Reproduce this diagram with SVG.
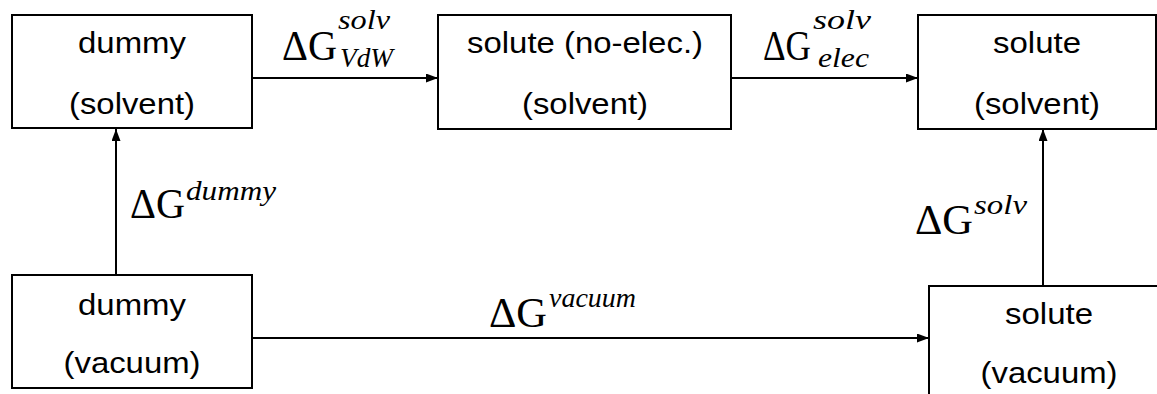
<svg xmlns="http://www.w3.org/2000/svg" width="1157" height="394" viewBox="0 0 1157 394">
<defs>
<style>
.box{fill:#fff;stroke:#000;stroke-width:2}
.lbl{font-family:"Liberation Sans",Arial,sans-serif;font-size:30px;fill:#000;text-anchor:middle}
.dg{font-family:"Liberation Serif","Times New Roman",serif;font-size:42px;fill:#000}
.sc{font-family:"Liberation Serif","Times New Roman",serif;font-size:28px;font-style:italic;fill:#000}
.conn{stroke:#000;stroke-width:2;fill:none;marker-end:url(#ah)}
</style>
<marker id="ah" viewBox="0 0 12 9" refX="12" refY="4.5" markerWidth="12" markerHeight="9" markerUnits="userSpaceOnUse" orient="auto">
<path d="M0,0 L12,4.5 L0,9 Z" fill="#000"/>
</marker>
</defs>
<rect width="1157" height="394" fill="#fff"/>
<g id="connectors">
<line class="conn" x1="252" y1="78" x2="438" y2="78"/>
<line class="conn" x1="731" y1="78" x2="918" y2="78"/>
<line class="conn" x1="116" y1="275" x2="116" y2="129"/>
<line class="conn" x1="1043" y1="286" x2="1043" y2="129"/>
<line class="conn" x1="252" y1="338" x2="929" y2="338"/>
</g>
<g id="node-dummy-solvent">
<rect class="box" x="12" y="15" width="240" height="113"/>
<text class="lbl" x="132" y="53" textLength="108" lengthAdjust="spacingAndGlyphs">dummy</text>
<text class="lbl" x="132" y="114" textLength="126" lengthAdjust="spacingAndGlyphs">(solvent)</text>
</g>
<g id="node-solute-noelec-solvent">
<rect class="box" x="438" y="15" width="293" height="114"/>
<text class="lbl" x="585" y="53" textLength="236" lengthAdjust="spacingAndGlyphs">solute (no-elec.)</text>
<text class="lbl" x="585" y="114" textLength="126" lengthAdjust="spacingAndGlyphs">(solvent)</text>
</g>
<g id="node-solute-solvent">
<rect class="box" x="918" y="15" width="238" height="114"/>
<text class="lbl" x="1037" y="53" textLength="88" lengthAdjust="spacingAndGlyphs">solute</text>
<text class="lbl" x="1037" y="114" textLength="126" lengthAdjust="spacingAndGlyphs">(solvent)</text>
</g>
<g id="node-dummy-vacuum">
<rect class="box" x="12" y="275" width="240" height="113"/>
<text class="lbl" x="132" y="315" textLength="108" lengthAdjust="spacingAndGlyphs">dummy</text>
<text class="lbl" x="132" y="373" textLength="137" lengthAdjust="spacingAndGlyphs">(vacuum)</text>
</g>
<g id="node-solute-vacuum">
<rect class="box" x="929" y="286" width="240" height="120"/>
<text class="lbl" x="1049" y="324" textLength="88" lengthAdjust="spacingAndGlyphs">solute</text>
<text class="lbl" x="1049" y="383" textLength="137" lengthAdjust="spacingAndGlyphs">(vacuum)</text>
</g>
<g id="labels">
<text class="dg" x="282" y="60" textLength="55" lengthAdjust="spacingAndGlyphs">ΔG</text>
<text class="sc" x="338" y="29" textLength="52" lengthAdjust="spacingAndGlyphs">solv</text>
<text class="sc" x="340" y="67" textLength="53" lengthAdjust="spacingAndGlyphs">VdW</text>
<text class="dg" x="763" y="60" textLength="48" lengthAdjust="spacingAndGlyphs">ΔG</text>
<text class="sc" x="813" y="29" textLength="58" lengthAdjust="spacingAndGlyphs">solv</text>
<text class="sc" x="818" y="67" textLength="51" lengthAdjust="spacingAndGlyphs">elec</text>
<text class="dg" x="130" y="218" textLength="55" lengthAdjust="spacingAndGlyphs">ΔG</text>
<text class="sc" x="186" y="200" textLength="90" lengthAdjust="spacingAndGlyphs">dummy</text>
<text class="dg" x="489" y="327" textLength="58" lengthAdjust="spacingAndGlyphs">ΔG</text>
<text class="sc" x="549" y="307" textLength="87" lengthAdjust="spacingAndGlyphs">vacuum</text>
<text class="dg" x="915" y="234" textLength="58" lengthAdjust="spacingAndGlyphs">ΔG</text>
<text class="sc" x="974" y="214" textLength="53" lengthAdjust="spacingAndGlyphs">solv</text>
</g>
</svg>
